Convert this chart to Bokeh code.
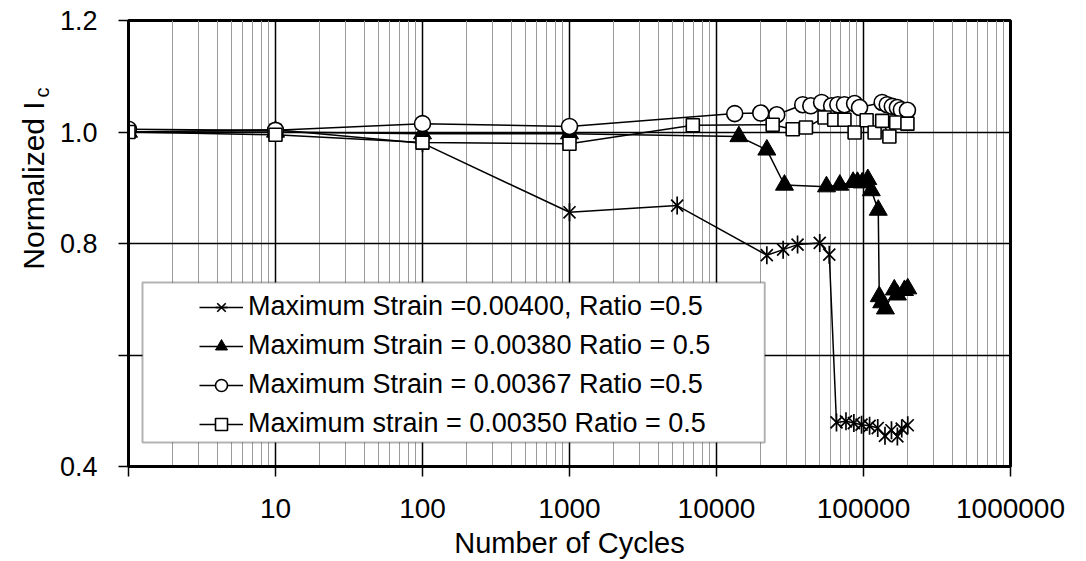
import math
from bokeh.plotting import figure
from bokeh.layouts import row
from bokeh.models import (Range1d, FixedTicker, NumeralTickFormatter, Legend, LegendItem,
                          BoxAnnotation, Label)
from bokeh.embed import file_html
from bokeh.resources import INLINE

# ---------------- data ----------------
label_a = "Maximum Strain =0.00400, Ratio =0.5"
cycles_a = [1, 10, 100, 1000, 5400, 22000, 28400, 35600, 50400, 58500, 65500, 76000, 86000,
            97000, 110000, 125000, 140000, 155000, 170000, 182000, 200000]
ic_a = [1.0, 1.004, 0.98, 0.856, 0.868, 0.779, 0.789, 0.798, 0.801, 0.78, 0.479, 0.481, 0.478,
        0.475, 0.473, 0.469, 0.455, 0.465, 0.454, 0.468, 0.474]

label_b = "Maximum Strain = 0.00380 Ratio = 0.5"
cycles_b = [1, 10, 100, 1000, 14200, 22000, 29000, 56000, 69000, 85000, 91000, 98000, 107000,
            113000, 126000, 128000, 133000, 141000, 162000, 170000, 190000, 200000]
ic_b = [1.0, 1.0, 0.997, 0.997, 0.992, 0.968, 0.905, 0.902, 0.905, 0.91, 0.91, 0.909, 0.915,
        0.895, 0.86, 0.705, 0.694, 0.683, 0.717, 0.708, 0.716, 0.719]

label_c = "Maximum Strain = 0.00367 Ratio =0.5"
cycles_c = [1, 10, 100, 1000, 13300, 20000, 25700, 38600, 43800, 51900, 60700, 66900, 74200,
            87000, 94000, 134000, 145000, 157000, 170000, 181000, 199000]
ic_c = [1.005, 1.003, 1.015, 1.01, 1.033, 1.034, 1.031, 1.049, 1.047, 1.053, 1.047, 1.049, 1.049,
        1.051, 1.044, 1.053, 1.049, 1.046, 1.044, 1.04, 1.039]

label_d = "Maximum strain = 0.00350 Ratio = 0.5"
cycles_d = [1, 10, 100, 1000, 6900, 24100, 33000, 40600, 54300, 63200, 74200, 87000, 105000,
            119000, 134000, 150000, 167000, 199000]
ic_d = [1.0, 0.995, 0.981, 0.979, 1.012, 1.013, 1.005, 1.008, 1.026, 1.022, 1.022, 0.999, 1.021,
        0.999, 1.02, 0.992, 1.017, 1.015]

x_ticks = [1, 10, 100, 1000, 10000, 100000, 1000000]
y_ticks = [0.4, 0.6, 0.8, 1.0, 1.2]
x_title = "Number of Cycles"
y_title = "Normalized I"
y_title_sub = "c"

FONT = "Liberation Sans"
H = 561
TOP, BOTTOM = 20, 95
FRAME_H = H - TOP - BOTTOM

# ---------------- main figure ----------------
p = figure(width=1030, height=H, x_axis_type="log",
           x_range=Range1d(1, 1e6), y_range=Range1d(0.4, 1.2),
           output_backend="svg", toolbar_location=None,
           min_border_left=70, min_border_right=76, min_border_top=TOP, min_border_bottom=BOTTOM)
p.background_fill_color = "white"
p.border_fill_color = "white"
p.outline_line_color = "black"
p.outline_line_width = 3

minor = [k * 10 ** d for d in range(6) for k in range(2, 10)]
p.xaxis.ticker = FixedTicker(ticks=x_ticks, minor_ticks=[])
p.xgrid.ticker = FixedTicker(ticks=x_ticks, minor_ticks=minor)
p.xaxis.formatter = NumeralTickFormatter(format="0")
p.xaxis.major_label_overrides = {1: ""}
p.yaxis.ticker = FixedTicker(ticks=y_ticks, minor_ticks=[])
p.ygrid.ticker = FixedTicker(ticks=y_ticks, minor_ticks=[])
p.yaxis.formatter = NumeralTickFormatter(format="0.0")
p.yaxis.major_label_overrides = {0.6: ""}

for ax in (p.xaxis, p.yaxis):
    ax.axis_line_width = 3
    ax.axis_line_color = "black"
    ax.major_tick_line_width = 1.5
    ax.major_tick_line_color = "black"
    ax.major_tick_out = 10
    ax.major_tick_in = 0
    ax.minor_tick_out = 0
    ax.minor_tick_in = 0
    ax.major_label_text_font = FONT
    ax.major_label_text_color = "black"

p.xaxis.major_label_text_font_size = "28px"
p.yaxis.major_label_text_font_size = "27px"
p.xaxis.major_label_standoff = 22
p.yaxis.major_label_standoff = 21
p.xaxis.axis_label = x_title
p.xaxis.axis_label_text_font = FONT
p.xaxis.axis_label_text_font_size = "29px"
p.xaxis.axis_label_text_font_style = "normal"
p.xaxis.axis_label_text_color = "black"
p.xaxis.axis_label_standoff = 6

p.xgrid.grid_line_color = "black"
p.xgrid.grid_line_width = 1.5
p.xgrid.minor_grid_line_color = "#9a9a9a"
p.xgrid.minor_grid_line_width = 1
p.ygrid.grid_line_color = "black"
p.ygrid.grid_line_width = 1.5

# ---------------- data series ----------------
LW = 1.5
la = p.line(cycles_a, ic_a, line_color="black", line_width=LW)
sa1 = p.scatter(cycles_a, ic_a, marker="x", size=17, line_color="black", line_width=1.7)
sa2 = p.scatter(cycles_a, ic_a, marker="dash", angle=math.pi / 2, size=18, line_color="black", line_width=1.7)

lb = p.line(cycles_b, ic_b, line_color="black", line_width=LW)
sb = p.scatter(cycles_b, ic_b, marker="triangle", size=18, fill_color="black", line_color="black")

lc = p.line(cycles_c, ic_c, line_color="black", line_width=LW)
sc = p.scatter(cycles_c, ic_c, marker="circle", size=16, fill_color="white", line_color="black", line_width=1.6)

ld = p.line(cycles_d, ic_d, line_color="black", line_width=LW)
sd = p.scatter(cycles_d, ic_d, marker="square", size=13, fill_color="white", line_color="black", line_width=1.6)

# ---------------- legend ----------------
box = BoxAnnotation(left=1.245, right=21290, top=0.730, bottom=0.443,
                    fill_color="white", fill_alpha=1.0, line_color="black", line_width=2)
p.add_layout(box)

legend = Legend(items=[
    LegendItem(label=label_a, renderers=[la, sa1, sa2]),
    LegendItem(label=label_b, renderers=[lb, sb]),
    LegendItem(label=label_c, renderers=[lc, sc]),
    LegendItem(label=label_d, renderers=[ld, sd]),
], location=(71, 27), orientation="vertical")
legend.border_line_color = None
legend.background_fill_alpha = 0
legend.padding = 7
legend.margin = 0
legend.spacing = 8
legend.glyph_width = 44
legend.glyph_height = 30
legend.label_height = 30
legend.label_standoff = 5
legend.label_text_font = FONT
legend.label_text_font_size = "27px"
legend.label_text_color = "black"
legend.label_text_baseline = "middle"
p.add_layout(legend, "center")

# ---------------- y-axis title panel (rotated text with subscript) ----------------
t = figure(width=56, height=H, output_backend="svg", toolbar_location=None,
           x_axis_location=None, y_axis_location=None,
           min_border_left=0, min_border_right=0, min_border_top=TOP, min_border_bottom=BOTTOM,
           x_range=Range1d(0, 1), y_range=Range1d(0, 1))
t.outline_line_color = None
t.background_fill_color = "white"
t.border_fill_color = "white"
t.xgrid.visible = False
t.ygrid.visible = False
# screen units are measured from the frame's bottom-left corner
t.add_layout(Label(x=33, y=H - BOTTOM - 185, x_units="screen", y_units="screen", text=y_title,
                   angle=math.pi / 2, text_align="center", text_baseline="middle",
                   text_font=FONT, text_font_size="30px", text_color="black"))
t.add_layout(Label(x=41, y=H - BOTTOM - 92, x_units="screen", y_units="screen", text=y_title_sub,
                   angle=math.pi / 2, text_align="center", text_baseline="middle",
                   text_font=FONT, text_font_size="20px", text_color="black"))

layout = row(t, p, spacing=0)
open("out.html", "w").write(file_html(layout, INLINE))
